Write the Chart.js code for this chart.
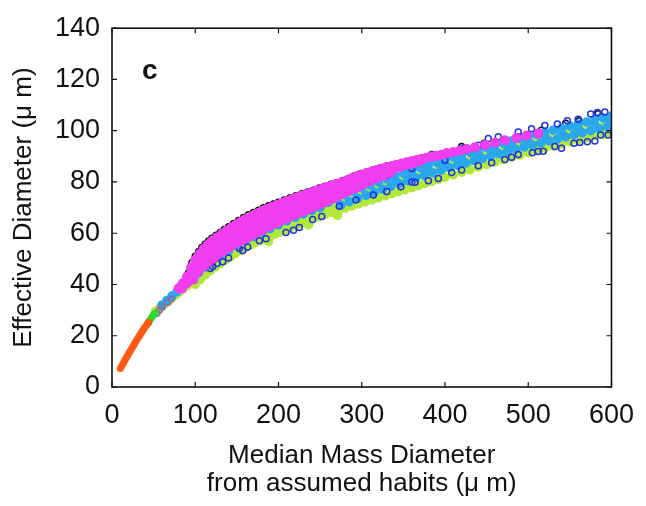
<!DOCTYPE html>
<html>
<head>
<meta charset="utf-8">
<script src="https://cdn.jsdelivr.net/npm/chart.js@4"></script>
<style>
  body { margin: 0; background: #fff; }
  canvas { display: block; }
</style>
</head>
<body>
<canvas id="grafico" width="646" height="506"></canvas>
<script>
// tick labels
var xTicks = [0, 100, 200, 300, 400, 500, 600];
var yTicks = [0, 20, 40, 60, 80, 100, 120, 140];

// points: [median mass diameter, effective diameter]
var orangePts = [[10,7.2],[11.5,8.1],[13,9],[14.5,9.9],[16,10.7],[17.5,11.6],[19,12.4],[20.5,13.3],[22,14.1],[23.5,14.9],
  [25,15.7],[26.5,16.6],[28,17.4],[29.5,18.2],[31,19],[32.5,19.8],[34,20.5],[35.5,21.3],[37,22],[38.5,22.8],[40,23.5],[41.5,24.2],[43,24.8],[44,25.2]];

var greenPts = [[44,25.3],[45.5,26],[47,26.8],[48.5,27.5],[50,28.2],[51.5,28.8]];

var purplePts = [[54,28.8],[57,30],[60,31.2],[67,33.1],[71,34.4]];

var blackPts = [[92,44.5],[96,48.5],[100,51],[104,52.8],[108,54.4],[112,55.8],[116,57],[120,58],[125,59.2],[130,60.3],
  [135,61.5],[140,62.5],[146,63.8],[152,65],[158,66.1],[164,67.2],[170,68.1],[176,69],[182,69.9],[188,70.7],[194,71.4],
  [200,72.1],[207,73],[214,73.8],[221,74.6],[228,75.4],[235,76.1],[242,76.8],[249,77.6],[256,78.3],[263,79.1],[270,79.8],
  [277,80.5],[284,81.3],[291,82.3],[298,83.1],[306,83.9],[314,84.7],[322,85.5],[330,86.2],[345,87.2],[362,88.4],[384,90.7],
  [402,91.6],[420,93.8],[447,95.1],[488,97.6],[516,100.2],[545,102.9],[561,103.9],[584,106.6],[599,105.8]];

var magentaPts = [
  [80,38.5],[85,40.5],[90,43],[95,46.5],[100,49.5],[105,51.8],[110,53.8],[115,55.5],[120,56.8],[126,58.3],[132,59.7],[138,61],
  [144,62.3],[150,63.5],[156,64.6],[162,65.6],[168,66.6],[174,67.6],[180,68.5],[186,69.4],[192,70.2],[198,71],[204,71.8],
  [210,72.5],[216,73.2],[222,73.9],[228,74.6],[234,75.3],[240,76],[246,76.7],[252,77.3],[258,78],[264,78.6],[270,79.2],
  [276,79.9],[282,80.6],[288,81.4],[294,82.2],[300,82.9],[306,83.5],[312,84.1],[318,84.7],[324,85.2],[330,85.7],[336,86.2],
  [342,86.7],[348,87.2],[354,87.7],[360,88.1],[366,88.6],[372,89],
  [112,53],[118,55],[124,56.5],[130,57.9],[136,59.2],[142,60.6],[148,61.8],[154,62.8],[160,63.8],[166,64.8],[172,65.8],
  [178,66.8],[184,67.7],[190,68.5],[196,69.3],[202,70.1],[208,70.9],[214,71.6],[220,72.3],[226,73],[232,73.7],[238,74.4],
  [244,75.1],[250,75.8],[256,76.5],[262,77.2],
  [84,38.5],[90,40.5],[96,44],[102,46.5],[108,49],[114,51],[120,53],[126,54.6],[132,56],[138,57.5],[144,58.8],[150,60],
  [156,61],[162,62],[168,63],[174,64],[180,65],[186,66],[192,66.8],[198,67.6],[204,68.5],[210,69.3],[216,70.1],[222,70.8],
  [228,71.5],[234,72.2],[240,72.9],[246,73.6],[252,74.3],[258,75.1],[264,75.9],[270,76.7],[276,77.5],[282,78.2],[288,79],
  [294,79.8],[300,80.6],[306,81.4],[312,82.1],[318,82.8],[324,83.5],[330,84.2],[338,85],[346,85.8],[354,86.6],[362,87.3],[370,88],
  [98,42],[104,45],[110,47],[116,48.8],[122,50.3],[128,51.8],[134,53.2],[140,54.3],[146,55.5],[152,56.6],[158,57.6],[164,58.6],
  [170,59.5],[176,60.6],[182,61.6],[188,62.6],[194,63.5],[200,64.4],[206,65.3],[212,66.2],[218,67.1],[224,67.9],[230,68.6],
  [236,69.4],[242,70.3],[248,71.1],[254,71.9],[260,72.8],[266,73.7],[272,74.6],[278,75.5],[284,76.4],[290,77.3],[296,78.1],
  [302,79.1],[310,80.3],[318,81.5],[326,82.5],[334,83.5],
  [106,48.6],[113,50.4],[119,52],[125,53.4],[131,54.8],[137,56.1],[143,57.4],[149,58.5],[155,59.5],[161,60.4],[167,61.4],
  [173,62.4],[179,63.4],[185,64.4],[191,65.2],[197,66],[203,66.9],[209,67.8],[215,68.6],[221,69.3],[227,70.1],[233,70.9],
  [239,71.7],[245,72.4],[251,73.2],[257,74],[263,74.8],[269,75.7],[275,76.5],[281,77.4],[287,78.2],[293,79],[299,79.9],
  [378,89.4],[384,89.9],[390,90.2],[396,90.6],[402,91.2],[410,91.7],[418,92.3],[426,92.8],[436,93.5],[448,94.4],[460,95.3],
  [472,96.3],[486,97.2],[498,98.1],[512,98.9]];

var cyanPts = [
  [60,32],[66,33.8],[72,35.5],[78,37.2],[84,39],[90,40.5],[96,42.5],[104,44.5],[112,46.8],[120,49],[130,51.2],[140,53.2],
  [150,55.2],[160,57],[170,58.7],[180,60.3],[190,61.8],[200,63.3],[210,64.8],[220,66.2],[230,67.5],[240,68.8],[250,70],
  [260,72],[270,73.5],[280,75],[290,76.3],[300,77.6],[310,78.8],[320,80],[330,81.2],[340,82.3],[350,83.4],[360,84.5],
  [370,85.6],[380,86.6],[390,87.6],[400,88.6],[410,89.6],[420,90.6],[430,91.5],[440,92.4],[450,93.3],[460,94.2],[470,95.1],
  [480,96],[490,96.9],[500,97.8],[510,98.6],[520,99.4],[530,100.2],[540,101],[550,101.8],[560,102.6],[570,103.4],[580,104.2],
  [590,105],[599,105.6],
  [275,71],[285,72.3],[295,73.6],[305,74.8],[315,76],[325,77.2],[335,78.3],[345,79.4],[355,80.5],[365,81.6],
  [375,82.6],[385,83.6],[395,84.6],[405,85.6],[415,86.5],[425,87.4],[435,88.3],[445,89.2],[455,90.1],[465,91],[475,91.9],
  [485,92.8],[495,93.6],[505,94.4],[515,95.2],[525,96],[535,96.8],[545,97.6],[555,98.4],[565,99.2],[575,100],[585,100.8],[595,101.6],
  [340,80.8],[360,83],[380,85],[400,87],[420,89],[440,90.8],[460,92.6],[480,94.4],[500,96.2],[520,97.8],[540,99.4],[560,101],
  [580,102.5],[599,103.6]];

var limePts = [
  [52,29.5],[56,30.4],[60,31.4],[64,32.5],[68,33.6],[72,34.7],[76,35.8],[80,36.9],[85,38.2],[90,39.5],[96,41],[102,42.8],
  [108,44.6],[114,46.3],[120,48],[126,49.5],[132,50.8],[138,52.1],[144,53.4],[150,54.6],[156,55.7],[162,56.8],[168,57.8],
  [174,58.8],[180,59.8],[186,60.7],[192,61.6],[198,62.5],[204,63.4],[210,64.3],[216,65.1],[222,65.9],[228,66.7],[234,67.5],
  [240,68.3],[246,69],[252,69.7],[258,70.4],[264,71.1],[270,71.8],[278,72.7],[286,73.6],[294,74.5],[302,75.4],[310,76.3],
  [318,77.2],[326,78],[334,78.8],[342,79.6],[350,80.4],[358,81.2],[366,82],[374,82.8],[382,83.6],[390,84.4],[398,85.2],
  [406,86],[414,86.8],[422,87.6],[430,88.4],[438,89.2],[446,89.9],[454,90.6],[462,91.3],[470,92],[478,92.7],[486,93.4],
  [494,94.1],[502,94.8],[510,95.5],[518,96.2],[526,96.9],[534,97.6],[542,98.3],[550,99],[558,99.6],[566,100.2],[574,100.8],
  [582,101.3],[590,101.7],[599,102],
  [100,40],[106,41.9],[112,43.7],[118,45.4],[124,46.8],[130,48.2],[136,49.5],[142,50.8],[148,52],[154,53.2],[160,54.3],
  [166,55.3],[172,56.3],[178,57.2],[184,58.1],[190,58.9],[196,59.7],[202,60.5],[208,61.3],[214,62.1],[220,62.9],[226,63.7],
  [232,64.5],[240,65.5],[248,66.4],[256,67.3],[264,68.1],[272,69],[280,69.8],[288,70.6],[296,71.4],[304,72.2],[312,73],
  [320,73.8],[328,74.6],[336,75.4],[344,76.2],[352,77],[360,77.8],[368,78.6],[376,79.4],[384,80.2],[392,81],[400,81.8],
  [410,82.8],[420,83.8],[430,84.8],[440,85.8],[450,86.8],[460,87.8],[470,88.7],[480,89.6],[490,90.5],[500,91.4],[510,92.3],
  [520,93.2],[530,94],[540,94.8],[550,95.6],[560,96.4],[570,97.2],[580,97.9],[590,98.5],[599,99],
  [271,67],[236,63.3],[188,56.8]];

var bluePts = [[118,46.2],[121,47],[126,48.2],[133,48.9],[140,50.3],[153,54],[157,53.3],[163,54.6],[177,57.1],[185,57.8],
  [209,60.3],[218,61.2],[225,62.2],[241,65.4],[252,66.5],[273,70.5],[293,73],[314,74.9],[330,76.3],[347,78.1],[360,80],
  [364,79.9],[380,80.5],[392,81.4],[408,83.7],[420,84.7],[440,86.3],[456,87.5],[472,88.8],[480,89.6],[488,90.7],[505,91.4],
  [512,91.9],[518,92],[532,93.8],[540,93.2],[555,95.1],[562,95.4],[571,95.7],[580,96],[587,98.3],[596,98.3],
  [330,82.6],[360,85.3],[400,88.5],[420,93.2],[440,94.3],[452,97],[464,97.6],[488,99.5],[504,100.8],[520,102],[535,102.6],
  [547,103.9],[560,104.5],[575,106.5],[583,107.1],[592,107.3]];

function pts(arr) {
  return arr.map(function (p) { return { x: p[0], y: p[1] }; });
}

function serie(dati, colore, pieno, raggio, ordine) {
  return {
    data: pts(dati),
    borderColor: colore,
    backgroundColor: pieno ? colore : 'rgba(0,0,0,0)',
    pointRadius: raggio,
    pointBorderWidth: 1.5,
    order: ordine
  };
}

// box, inward ticks on all four sides and the panel letter
var boxPlugin = {
  id: 'box',
  afterDraw: function (chart) {
    var ctx = chart.ctx;
    var a = chart.chartArea;
    var sx = chart.scales.x, sy = chart.scales.y;
    ctx.save();
    ctx.strokeStyle = '#111';
    ctx.lineWidth = 1.6;
    ctx.strokeRect(a.left, a.top, a.right - a.left, a.bottom - a.top);
    ctx.lineWidth = 1.2;
    ctx.beginPath();
    xTicks.forEach(function (v) {
      var px = sx.getPixelForValue(v);
      ctx.moveTo(px, a.bottom); ctx.lineTo(px, a.bottom - 5);
      ctx.moveTo(px, a.top); ctx.lineTo(px, a.top + 5);
    });
    yTicks.forEach(function (v) {
      var py = sy.getPixelForValue(v);
      ctx.moveTo(a.left, py); ctx.lineTo(a.left + 5, py);
      ctx.moveTo(a.right, py); ctx.lineTo(a.right - 5, py);
    });
    ctx.stroke();
    ctx.fillStyle = '#111';
    ctx.font = 'bold 28px "Liberation Sans", Arial, sans-serif';
    ctx.textBaseline = 'alphabetic';
    ctx.fillText('c', a.left + 30, a.top + 51);
    ctx.restore();
  }
};

var fontTick = { family: '"Liberation Sans", Arial, sans-serif', size: 27 };
var fontTitle = { family: '"Liberation Sans", Arial, sans-serif', size: 26, lineHeight: 1.05 };

new Chart(document.getElementById('grafico'), {
  type: 'scatter',
  data: {
    datasets: [
      serie(orangePts, '#ff5a14', true, 2.8, 1),
      serie(greenPts, '#2fd92f', true, 2.8, 2),
      serie(purplePts, '#8c6f9e', false, 3, 3),
      serie(magentaPts, '#f03ef0', true, 4.3, 4),
      serie(bluePts, '#2233dd', false, 3, 5),
      serie(cyanPts, '#2aa8ee', true, 4, 6),
      serie(limePts, '#b2e83a', true, 4, 7),
      serie(blackPts, '#111111', false, 3, 8)
    ]
  },
  options: {
    responsive: false,
    animation: false,
    layout: { padding: { top: 19, right: 32, bottom: 0, left: 0 } },
    plugins: { legend: { display: false }, tooltip: { enabled: false } },
    scales: {
      x: {
        type: 'linear',
        min: 0, max: 600,
        afterFit: function (s) { s.height = 119; },
        afterBuildTicks: function (s) { s.ticks = xTicks.map(function (v) { return { value: v }; }); },
        grid: { display: false, drawTicks: false },
        border: { display: false },
        ticks: { color: '#111', font: fontTick, padding: 12, maxRotation: 0 },
        title: {
          display: true,
          text: ['Median Mass Diameter', 'from assumed habits (\u03bc m)'],
          color: '#111',
          font: fontTitle,
          padding: { top: 0, bottom: 9 }
        }
      },
      y: {
        type: 'linear',
        min: 0, max: 140,
        afterFit: function (s) { s.width = 112; },
        afterBuildTicks: function (s) { s.ticks = yTicks.map(function (v) { return { value: v }; }); },
        grid: { display: false, drawTicks: false },
        border: { display: false },
        ticks: { color: '#111', font: fontTick, padding: 12 },
        title: {
          display: true,
          text: 'Effective Diameter (\u03bc m)',
          color: '#111',
          font: fontTitle,
          padding: { top: 10, bottom: 0 }
        }
      }
    }
  },
  plugins: [boxPlugin]
});
</script>
</body>
</html>
